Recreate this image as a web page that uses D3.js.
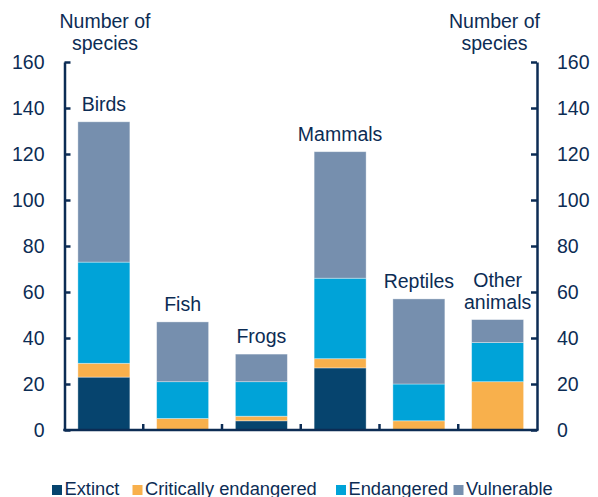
<!DOCTYPE html>
<html>
<head>
<meta charset="utf-8">
<script src="https://cdn.jsdelivr.net/npm/d3@7"></script>
<style>
  html, body { margin: 0; padding: 0; background: #ffffff; }
  svg { display: block; font-family: "Liberation Sans", Arial, sans-serif; }
</style>
</head>
<body>
<svg id="chart" width="598" height="497"></svg>
<script>
// Threatened species by group and status
const categories = ["Birds", "Fish", "Frogs", "Mammals", "Reptiles", "Other animals"];
const extinct    = [23, 0, 4, 27, 0, 0];
const critical   = [6, 5, 2, 4, 4, 21];
const endangered = [44, 16, 15, 35, 16, 17];
const vulnerable = [61, 26, 12, 55, 37, 10];
const seriesNames = ["Extinct", "Critically endangered", "Endangered", "Vulnerable"];
const yTicks = [0, 20, 40, 60, 80, 100, 120, 140, 160];
const axisTitle = ["Number of", "species"];

const colors = ["#06446e", "#f8b04c", "#00a3d8", "#768fae"];
const ink = "#0c2c54";

const svg = d3.select("#chart");
const plotLeft = 64.5, plotRight = 537, plotTop = 62, plotBottom = 430;

const keys = ["extinct", "critical", "endangered", "vulnerable"];
const rows = categories.map((c, i) => ({
  cat: c,
  extinct: extinct[i],
  critical: critical[i],
  endangered: endangered[i],
  vulnerable: vulnerable[i]
}));
const stacked = d3.stack().keys(keys)(rows);

const x = d3.scaleBand().domain(categories).range([plotLeft, plotRight])
  .paddingInner(0.34).paddingOuter(0.17);
const y = d3.scaleLinear().domain([0, 160]).range([plotBottom, plotTop]);

// stacked bars
svg.append("g").selectAll("g").data(stacked).join("g")
  .attr("fill", (d, i) => colors[i])
  .selectAll("rect").data(d => d).join("rect")
  .attr("x", d => x(d.data.cat))
  .attr("width", x.bandwidth())
  .attr("y", d => y(d[1]))
  .attr("height", d => Math.max(0, y(d[0]) - y(d[1])))
  .attr("stroke", "rgba(255,255,255,0.45)")
  .attr("stroke-width", 0.8);

// left and right value axes, ticks pointing into the plot
const styleAxis = g => {
  g.select(".domain").attr("stroke", ink).attr("stroke-width", 2.5);
  g.selectAll(".tick line").attr("stroke", ink).attr("stroke-width", 2.5);
  g.selectAll(".tick text").attr("fill", ink).attr("font-size", 19.5)
    .attr("font-family", "'Liberation Sans', Arial, sans-serif");
};
svg.append("g").attr("transform", `translate(${plotLeft},0)`)
  .call(d3.axisLeft(y).tickValues(yTicks).tickSizeInner(-6).tickSizeOuter(0).tickPadding(20))
  .call(styleAxis);
svg.append("g").attr("transform", `translate(${plotRight},0)`)
  .call(d3.axisRight(y).tickValues(yTicks).tickSizeInner(-6).tickSizeOuter(0).tickPadding(20))
  .call(styleAxis);

// category axis along the bottom with dividers between groups
svg.append("line")
  .attr("x1", plotLeft - 1.25).attr("x2", plotRight + 1.25)
  .attr("y1", plotBottom).attr("y2", plotBottom)
  .attr("stroke", ink).attr("stroke-width", 2.5);
const gap = x.step() * x.paddingInner();
svg.append("g").selectAll("line").data(categories.slice(1)).join("line")
  .attr("x1", d => x(d) - gap / 2).attr("x2", d => x(d) - gap / 2)
  .attr("y1", plotBottom).attr("y2", plotBottom - 6)
  .attr("stroke", ink).attr("stroke-width", 2.5);

// category labels above each bar
const totals = rows.map(r => keys.reduce((s, k) => s + r[k], 0));
const labels = svg.append("g").attr("fill", ink).attr("font-size", 19.5).attr("text-anchor", "middle");
categories.forEach((c, i) => {
  const words = c === "Other animals" ? ["Other", "animals"] : [c];
  const cx = x(c) + x.bandwidth() / 2;
  const base = y(totals[i]) - 11;
  words.forEach((w, j) => {
    labels.append("text")
      .attr("x", cx)
      .attr("y", base - (words.length - 1 - j) * 22)
      .text(w);
  });
});

// axis titles
[105, 494.5].forEach(cx => {
  const t = svg.append("text").attr("fill", ink).attr("font-size", 19.5).attr("text-anchor", "middle");
  axisTitle.forEach((line, j) => {
    t.append("tspan").attr("x", cx).attr("y", 28 + j * 22).text(line);
  });
});

// legend
const legendX = [52, 132.5, 336, 453.5];
const legend = svg.append("g");
seriesNames.forEach((name, i) => {
  legend.append("rect")
    .attr("x", legendX[i]).attr("y", 485)
    .attr("width", 10).attr("height", 10)
    .attr("fill", colors[i]);
  legend.append("text")
    .attr("x", legendX[i] + 12.5).attr("y", 495)
    .attr("fill", ink).attr("font-size", 18.3)
    .text(name);
});
</script>
</body>
</html>
